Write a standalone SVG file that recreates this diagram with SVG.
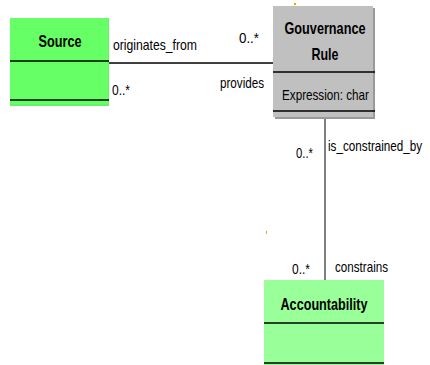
<svg xmlns="http://www.w3.org/2000/svg" width="430" height="365" viewBox="0 0 430 365">
<style>
text{font-family:"Liberation Sans",Arial,sans-serif;fill:#000}
.t{font-size:17px;font-weight:bold}
.l{font-size:15px}
.div{stroke:#000;stroke-width:1.5}
</style>
<rect width="430" height="365" fill="#fff"/>
<g id="connectors">
<line x1="109" y1="63" x2="273" y2="63" stroke="#000" stroke-width="1.5"/>
<line x1="325" y1="118" x2="325" y2="280" stroke="#808080" stroke-width="2"/>
<text class="l" x="113" y="50" textLength="84" lengthAdjust="spacingAndGlyphs">originates_from</text>
<text class="l" x="239" y="43" textLength="20" lengthAdjust="spacingAndGlyphs">0..*</text>
<text class="l" x="112" y="95" textLength="18" lengthAdjust="spacingAndGlyphs">0..*</text>
<text class="l" x="220" y="88" textLength="44" lengthAdjust="spacingAndGlyphs">provides</text>
<text class="l" x="296" y="158" textLength="17" lengthAdjust="spacingAndGlyphs">0..*</text>
<text class="l" transform="translate(328,151) scale(0.78,1)" x="0" y="0">is_constrained_by</text>
<text class="l" x="292" y="274" textLength="18" lengthAdjust="spacingAndGlyphs">0..*</text>
<text class="l" x="335" y="272" textLength="53" lengthAdjust="spacingAndGlyphs">constrains</text>
</g>
<g id="source">
<rect x="10" y="18" width="99" height="88" fill="#66f266"/>
<rect x="10" y="18" width="98" height="86" fill="#66ff66"/>
<line class="div" x1="10" y1="61" x2="109" y2="61"/>
<line class="div" x1="10" y1="100" x2="109" y2="100"/>
<text class="t" x="60" y="47" text-anchor="middle" textLength="43" lengthAdjust="spacingAndGlyphs">Source</text>
</g>
<g id="gouvernance-rule">
<rect x="275" y="8" width="100" height="111" fill="#999"/>
<rect x="273" y="6" width="100" height="111" fill="#c0c0c0"/>
<line class="div" x1="273" y1="72" x2="375" y2="72"/>
<line class="div" x1="273" y1="111" x2="375" y2="111"/>
<text class="t" x="325" y="34" text-anchor="middle" textLength="81" lengthAdjust="spacingAndGlyphs">Gouvernance</text>
<text class="t" x="325" y="60" text-anchor="middle" textLength="27" lengthAdjust="spacingAndGlyphs">Rule</text>
<text class="l" x="282" y="100" textLength="87" lengthAdjust="spacingAndGlyphs">Expression: char</text>
</g>
<g id="accountability">
<rect x="264" y="280" width="120" height="85" fill="#99ff99"/>
<line class="div" x1="264" y1="323" x2="384" y2="323"/>
<line class="div" x1="264" y1="363" x2="384" y2="363"/>
<text class="t" x="324" y="310" text-anchor="middle" textLength="87" lengthAdjust="spacingAndGlyphs">Accountability</text>
</g>
<rect x="294" y="3" width="2" height="2" fill="#e0b000"/>
<rect x="266" y="231" width="1" height="3" fill="#e0b000"/>
</svg>
